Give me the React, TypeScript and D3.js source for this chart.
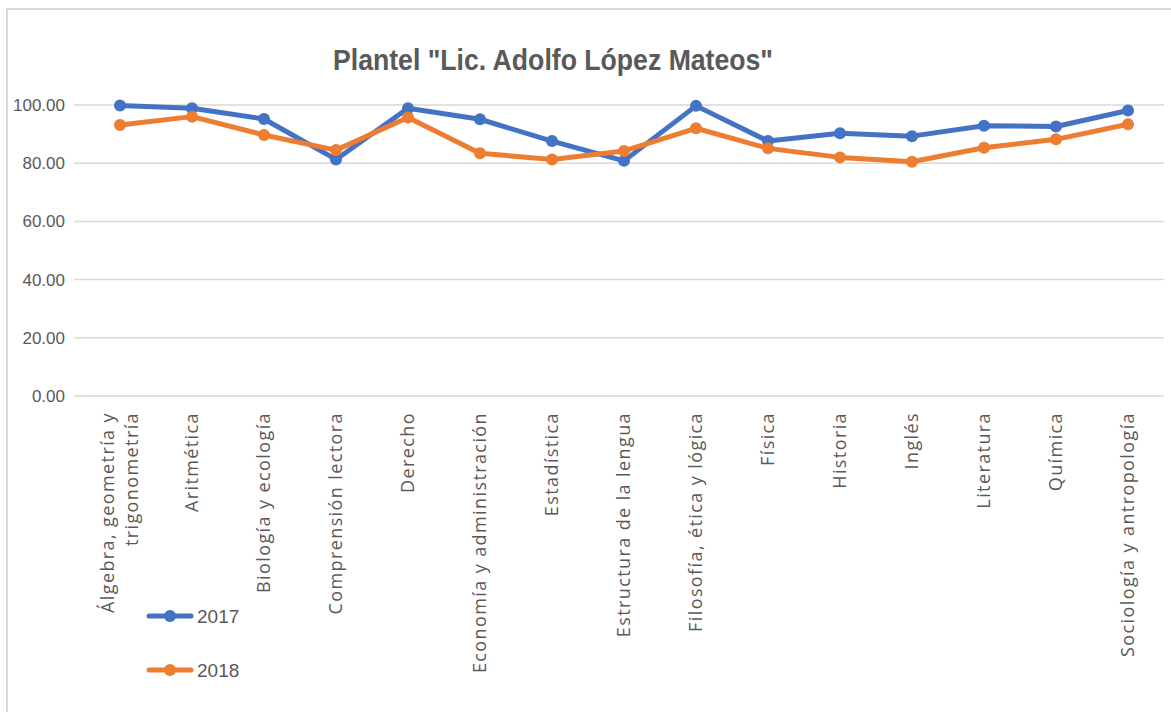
import React, { useEffect, useRef } from 'react';
import * as d3 from 'd3';

const materias = [
  'Álgebra, geometría y|trigonometría',
  'Aritmética',
  'Biología y ecología',
  'Comprensión lectora',
  'Derecho',
  'Economía y administración',
  'Estadística',
  'Estructura de la lengua',
  'Filosofía, ética y lógica',
  'Física',
  'Historia',
  'Inglés',
  'Literatura',
  'Química',
  'Sociología y antropología',
];
const valores2017 = [99.8, 98.9, 95.2, 81.3, 98.9, 95.1, 87.6, 80.8, 99.7, 87.6, 90.3, 89.3, 92.9, 92.6, 98.1];
const valores2018 = [93.1, 96.0, 89.7, 84.5, 95.7, 83.4, 81.3, 84.2, 92.0, 85.1, 82.0, 80.5, 85.3, 88.2, 93.4];
const yTicks = [0, 20, 40, 60, 80, 100];
const series = [
  { name: '2017', values: valores2017, color: '#4472C4' },
  { name: '2018', values: valores2018, color: '#ED7D31' },
];

const App = () => {
  const ref = useRef<SVGSVGElement>(null);

  useEffect(() => {
    const svg = d3.select(ref.current);
    svg.selectAll('*').remove();
    const width = 1171;
    const height = 712;
    const left = 84, right = 1164, top = 105, bottom = 396;

    // marco
    svg.append('path')
      .attr('d', `M7,${height} L7,9 L${width},9`)
      .attr('fill', 'none')
      .attr('stroke', '#d9d9d9')
      .attr('stroke-width', 2);

    const x = d3.scaleBand().domain(materias).range([left, right]);
    const y = d3.scaleLinear().domain([0, 100]).range([bottom, top]);
    const cx = (d: string) => (x(d) as number) + x.bandwidth() / 2;

    // grid
    svg.append('g')
      .selectAll('line')
      .data(yTicks)
      .join('line')
      .attr('x1', 74)
      .attr('x2', right)
      .attr('y1', d => y(d))
      .attr('y2', d => y(d))
      .attr('stroke', '#d9d9d9')
      .attr('stroke-width', 1.5);

    svg.append('g')
      .selectAll('text')
      .data(yTicks)
      .join('text')
      .attr('x', 65)
      .attr('y', d => y(d))
      .attr('dy', '0.35em')
      .attr('text-anchor', 'end')
      .attr('font-family', 'Liberation Sans, Arial, sans-serif')
      .attr('font-size', 17)
      .attr('fill', '#595959')
      .text(d => d3.format('.2f')(d));

    // etiquetas eje x
    const lbl = svg.append('g')
      .selectAll('text')
      .data(materias)
      .join('text')
      .attr('transform', d => `translate(${cx(d)},412) rotate(-90)`)
      .attr('text-anchor', 'end')
      .attr('font-family', 'Open Sans, sans-serif')
      .attr('font-size', 18)
      .attr('letter-spacing', 1.4)
      .attr('fill', '#595959');
    lbl.each(function (d) {
      const lines = d.split('|');
      const t = d3.select(this);
      lines.forEach((l, i) => {
        t.append('tspan')
          .attr('x', 0)
          .attr('dy', i === 0 ? (lines.length > 1 ? '-0.35em' : '0.35em') : '1.35em')
          .text(l);
      });
    });

    const line = d3.line<number>()
      .x((_, i) => cx(materias[i]))
      .y(v => y(v));

    series.forEach(s => {
      svg.append('path')
        .datum(s.values)
        .attr('fill', 'none')
        .attr('stroke', s.color)
        .attr('stroke-width', 5)
        .attr('stroke-linejoin', 'round')
        .attr('d', line);
      svg.append('g')
        .selectAll('circle')
        .data(s.values)
        .join('circle')
        .attr('cx', (_, i) => cx(materias[i]))
        .attr('cy', v => y(v))
        .attr('r', 6)
        .attr('fill', s.color);
    });

    // titulo
    svg.append('text')
      .attr('x', 553)
      .attr('y', 70)
      .attr('text-anchor', 'middle')
      .attr('font-family', 'Liberation Sans Narrow, Liberation Sans, Arial, sans-serif')
      .attr('font-weight', 'bold')
      .attr('font-size', 30)
      .attr('textLength', 440)
      .attr('lengthAdjust', 'spacingAndGlyphs')
      .attr('fill', '#595959')
      .text('Plantel "Lic. Adolfo López Mateos"');

    // leyenda
    series.forEach((s, i) => {
      const ly = 616 + i * 54;
      const g = svg.append('g');
      g.append('line')
        .attr('x1', 149).attr('x2', 191)
        .attr('y1', ly).attr('y2', ly)
        .attr('stroke', s.color)
        .attr('stroke-width', 5)
        .attr('stroke-linecap', 'round');
      g.append('circle').attr('cx', 170).attr('cy', ly).attr('r', 6).attr('fill', s.color);
      g.append('text')
        .attr('x', 197)
        .attr('y', ly)
        .attr('dy', '0.35em')
        .attr('font-family', 'Liberation Sans Narrow, Liberation Sans, Arial, sans-serif')
        .attr('font-size', 19)
        .attr('fill', '#595959')
        .text(s.name);
    });
  }, []);

  return (
    <svg
      ref={ref}
      width={1171}
      height={712}
      style={{ position: 'absolute', left: 0, top: 0, background: '#fff' }}
    />
  );
};

export default App;
